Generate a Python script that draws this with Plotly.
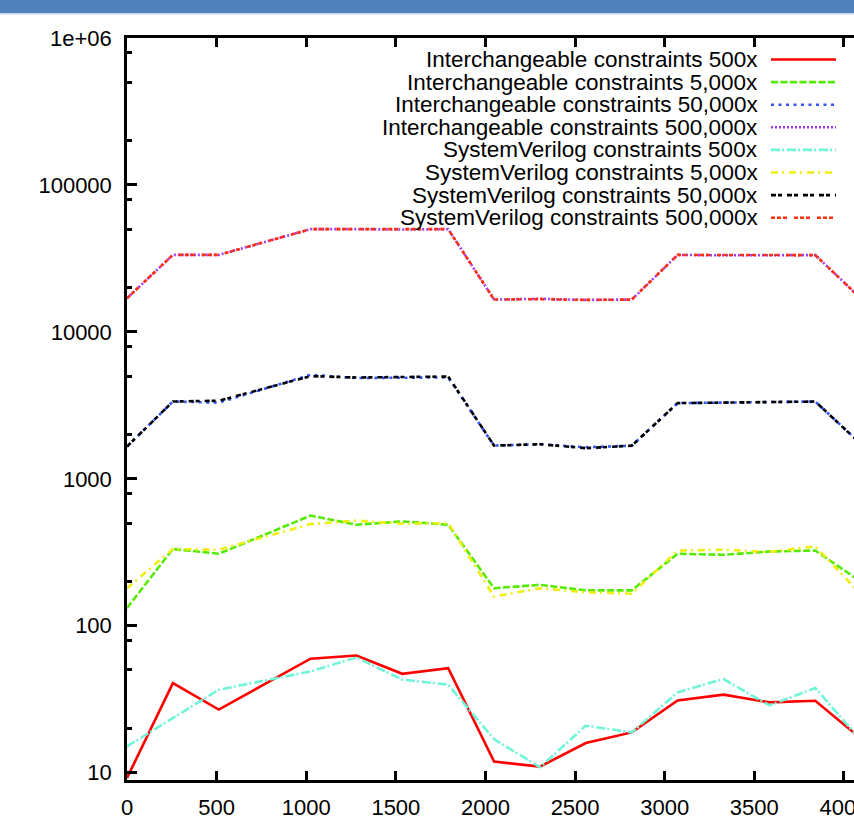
import math
import plotly.graph_objects as go

# ---------------- data ----------------
x_vals = [0, 256, 512, 1024, 1280, 1536, 1792, 2048, 2304, 2560, 2816, 3072, 3328, 3584, 3840, 4096]

int_500 = [9.2, 40.7, 26.9, 59.7, 62.8, 47.1, 51.5, 11.9, 11.0, 15.9, 18.8, 31.0, 34.0, 30.1, 30.9, 17.0]
int_5000 = [132, 333, 309, 562, 487, 513, 487, 180, 190, 174, 174, 309, 304, 320, 325, 199]
int_50000 = [1660, 3357, 3300, 5100, 4850, 4900, 4900, 1683, 1720, 1640, 1680, 3275, 3300, 3330, 3357, 1720]
int_500000 = [16950, 33400, 33400, 50000, 50000, 49700, 50000, 16600, 16800, 16500, 16600, 33400, 33200, 33400, 33300, 16800]
sv_500 = [15.1, 23.5, 36.7, 48.9, 60.8, 43.0, 39.7, 16.9, 10.9, 20.9, 18.8, 35.2, 43.4, 28.7, 37.7, 16.5]
sv_5000 = [180, 333, 329, 492, 520, 494, 500, 158, 180, 169, 165, 325, 329, 318, 347, 163]
sv_50000 = [1660, 3357, 3400, 5000, 4890, 4950, 4970, 1683, 1720, 1617, 1680, 3275, 3300, 3330, 3357, 1720]
sv_500000 = [16950, 33400, 33400, 50000, 50000, 50000, 50000, 16600, 16700, 16500, 16600, 33400, 33300, 33400, 33300, 16800]

series_names = [
    "Interchangeable constraints 500x",
    "Interchangeable constraints 5,000x",
    "Interchangeable constraints 50,000x",
    "Interchangeable constraints 500,000x",
    "SystemVerilog constraints 500x",
    "SystemVerilog constraints 5,000x",
    "SystemVerilog constraints 50,000x",
    "SystemVerilog constraints 500,000x",
]
series_values = [int_500, int_5000, int_50000, int_500000, sv_500, sv_5000, sv_50000, sv_500000]

y_tick_vals = [10, 100, 1000, 10000, 100000, 1000000]
y_tick_text = ["10", "100", "1000", "10000", "100000", "1e+06"]
y_minor_vals = [m * 10 ** e for e in range(0, 6) for m in (2, 5, 8)]
x_tick_vals = [0, 500, 1000, 1500, 2000, 2500, 3000, 3500, 4000]

# ---------------- styles ----------------
colors = ["#ff0000", "#55ea00", "#3355ff", "#a33cf0", "#70f5d8", "#eeee10", "#000000", "#ff3010"]
dashes = ["solid", "7px,2.5px", "3px,4.5px", "2px,2px", "9px,2px,2px,3px",
          "7px,4px,2px,5px", "5px,2px,4px,5px", "4px,2px,4px,2px,4px,7px"]
widths = [2.6, 2.6, 2.6, 2.6, 2.6, 2.6, 2.6, 2.6]

W, H = 854, 821
ML, MT, MB = 127, 38, 41
PLOT_W = W - ML
PLOT_H = H - MT - MB
FONT = "Liberation Sans, Arial, sans-serif"
TICK_SIZE = 22
LEGEND_SIZE = 22.5

fig = go.Figure()
for name, vals, c, d, w in zip(series_names, series_values, colors, dashes, widths):
    fig.add_trace(go.Scatter(x=x_vals, y=vals, mode="lines", name=name,
                             line=dict(color=c, dash=d, width=w), showlegend=False))

# manual gnuplot-style legend (text right-aligned, sample at right)
def px_to_paper_x(px):
    return (px - ML) / PLOT_W

def px_to_paper_y(py):
    return (H - MB - py) / PLOT_H

row0, row_step = 59.5, 22.6
for i, (name, c, d, w) in enumerate(zip(series_names, colors, dashes, widths)):
    yy = px_to_paper_y(row0 + i * row_step)
    fig.add_annotation(x=px_to_paper_x(760), y=yy, xref="paper", yref="paper",
                       text=name, showarrow=False, xanchor="right", yanchor="middle",
                       font=dict(family=FONT, size=LEGEND_SIZE, color="black"))
    fig.add_shape(type="line", xref="paper", yref="paper",
                  x0=px_to_paper_x(771), x1=px_to_paper_x(836), y0=yy, y1=yy,
                  line=dict(color=c, dash=d, width=w))

# blue band at top of the page
fig.add_shape(type="rect", xref="paper", yref="paper",
              x0=px_to_paper_x(-5), x1=px_to_paper_x(W + 5),
              y0=px_to_paper_y(13), y1=px_to_paper_y(-2),
              fillcolor="#4f81bd", line=dict(width=0), layer="above")
fig.add_shape(type="rect", xref="paper", yref="paper",
              x0=px_to_paper_x(-5), x1=px_to_paper_x(W + 5),
              y0=px_to_paper_y(14.5), y1=px_to_paper_y(13),
              fillcolor="#c5d5ea", line=dict(width=0), layer="above")

fig.update_layout(
    width=W, height=H,
    margin=dict(l=ML, r=0, t=MT, b=MB, pad=0),
    paper_bgcolor="white", plot_bgcolor="white",
    font=dict(family=FONT, size=TICK_SIZE, color="black"),
    showlegend=False,
)
fig.update_xaxes(
    range=[0, 4056], tickmode="array", tickvals=x_tick_vals,
    ticks="inside", ticklen=9, tickwidth=2.5, tickcolor="black",
    showline=True, linewidth=2.5, linecolor="black", mirror="ticks",
    showgrid=False, zeroline=False, automargin=False,
    ticklabeloverflow="allow",
    tickfont=dict(family=FONT, size=TICK_SIZE, color="black"), ticklabelstandoff=6,
)
fig.update_yaxes(
    type="log", range=[0.9503, 6.0], tickmode="array",
    tickvals=y_tick_vals, ticktext=y_tick_text,
    ticks="inside", ticklen=10, tickwidth=2.5, tickcolor="black",
    minor=dict(tickmode="array", tickvals=y_minor_vals, ticks="inside",
               ticklen=5, tickwidth=2.5, tickcolor="black", showgrid=False),
    showline=True, linewidth=2.5, linecolor="black", mirror=False,
    showgrid=False, zeroline=False, automargin=False,
    tickfont=dict(family=FONT, size=TICK_SIZE, color="black"), ticklabelstandoff=8,
)

fig.write_html("out.html")
